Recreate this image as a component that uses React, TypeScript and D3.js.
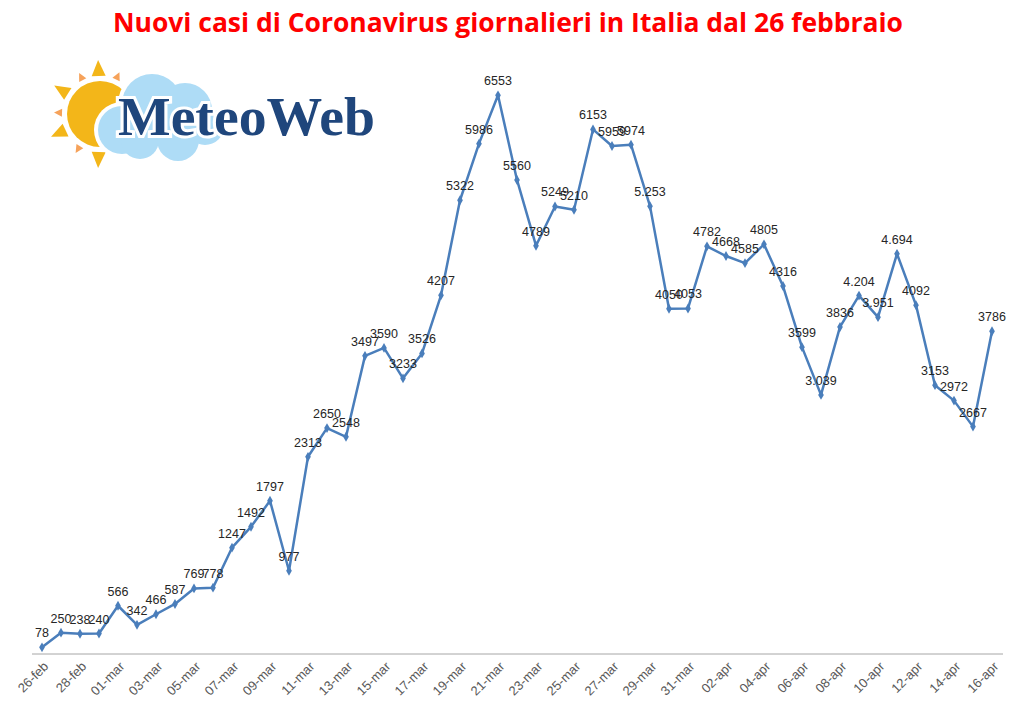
import { useEffect, useRef } from "react";
import * as d3 from "d3";

// daily new cases, 26 feb -> 16 apr 2020
const DAYS = [
  "26-feb", "27-feb", "28-feb", "29-feb",
  "01-mar", "02-mar", "03-mar", "04-mar", "05-mar", "06-mar", "07-mar", "08-mar", "09-mar", "10-mar",
  "11-mar", "12-mar", "13-mar", "14-mar", "15-mar", "16-mar", "17-mar", "18-mar", "19-mar", "20-mar",
  "21-mar", "22-mar", "23-mar", "24-mar", "25-mar", "26-mar", "27-mar", "28-mar", "29-mar", "30-mar", "31-mar",
  "01-apr", "02-apr", "03-apr", "04-apr", "05-apr", "06-apr", "07-apr", "08-apr", "09-apr", "10-apr",
  "11-apr", "12-apr", "13-apr", "14-apr", "15-apr", "16-apr",
];

const CASES = [
  78, 250, 238, 240,
  566, 342, 466, 587, 769, 778, 1247, 1492, 1797, 977,
  2313, 2650, 2548, 3497, 3590, 3233, 3526, 4207, 5322, 5986,
  6553, 5560, 4789, 5249, 5210, 6153, 5959, 5974, 5253, 4050, 4053,
  4782, 4668, 4585, 4805, 4316, 3599, 3039, 3836, 4204, 3951,
  4694, 4092, 3153, 2972, 2667, 3786,
];

// the source mixes "5.253" style labels with plain ones
const DOTTED = ["29-mar", "07-apr", "09-apr", "10-apr", "11-apr"];

const W = 1024, H = 712;
const LINE = "#4a7ebb";

export default function App() {
  const ref = useRef<SVGSVGElement | null>(null);

  useEffect(() => {
    document.body.style.margin = "0";
    if (!ref.current) return;
    const svg = d3.select(ref.current);
    svg.selectAll("*").remove();

    const x = d3.scalePoint<string>().domain(DAYS).range([42, 992]);
    const y = d3.scaleLinear().domain([0, 7000]).range([654, 57.2]);

    // title
    svg.append("text")
      .attr("x", 113).attr("y", 32)
      .attr("font-family", "Open Sans, Liberation Sans, sans-serif")
      .attr("font-weight", 700).attr("font-size", 27)
      .attr("fill", "#ff0000")
      .attr("textLength", 790).attr("lengthAdjust", "spacingAndGlyphs")
      .text("Nuovi casi di Coronavirus giornalieri in Italia dal 26 febbraio");

    // logo: sun + cloud + wordmark
    const logo = svg.append("g");
    const sc = { x: 100, y: 114 };
    const rays = [
      { a: 92, big: true }, { a: 148, big: true }, { a: 205, big: true }, { a: 268, big: true },
      { a: 65, big: false }, { a: 117, big: false }, { a: 178, big: false }, { a: 238, big: false },
    ];
    for (const r of rays) {
      const rad = (r.a * Math.PI) / 180;
      const r0 = 38, r1 = r.big ? 54 : 46, hw = r.big ? 7 : 4;
      const px = (d: number, o: number) => sc.x + Math.cos(rad) * d - Math.sin(rad) * o;
      const py = (d: number, o: number) => sc.y - Math.sin(rad) * d - Math.cos(rad) * o;
      logo.append("path")
        .attr("d", `M${px(r0, -hw)},${py(r0, -hw)}L${px(r1, 0)},${py(r1, 0)}L${px(r0, hw)},${py(r0, hw)}Z`)
        .attr("fill", r.big ? "#f3b619" : "#f6a25a");
    }
    logo.append("circle").attr("cx", sc.x).attr("cy", sc.y).attr("r", 33).attr("fill", "#f3b619");

    const puffs = [
      { cx: 122, cy: 130, r: 24 }, { cx: 152, cy: 104, r: 30 }, { cx: 185, cy: 110, r: 27 },
      { cx: 140, cy: 140, r: 19 }, { cx: 178, cy: 140, r: 21 }, { cx: 205, cy: 126, r: 19 },
    ];
    const cloud = logo.append("g");
    cloud.selectAll("circle.o").data(puffs).join("circle")
      .attr("cx", (d) => d.cx).attr("cy", (d) => d.cy).attr("r", (d) => d.r + 4).attr("fill", "#ffffff");
    cloud.selectAll("circle.i").data(puffs).join("circle")
      .attr("cx", (d) => d.cx).attr("cy", (d) => d.cy).attr("r", (d) => d.r).attr("fill", "#aedcf6");

    for (const halo of [true, false]) {
      logo.append("text")
        .attr("x", 118).attr("y", 135)
        .attr("font-family", "Liberation Serif, DejaVu Serif, serif")
        .attr("font-weight", 700).attr("font-size", 54)
        .attr("fill", halo ? "#ffffff" : "#1f467c")
        .attr("stroke", halo ? "#ffffff" : "none").attr("stroke-width", 6)
        .attr("textLength", 257).attr("lengthAdjust", "spacingAndGlyphs")
        .text("MeteoWeb");
    }

    // x axis
    const axis = svg.append("g").attr("transform", "translate(0,654)");
    axis.append("line").attr("x1", 32).attr("x2", 1003).attr("stroke", "#a6a6a6").attr("stroke-width", 1);
    axis.selectAll("text")
      .data(DAYS.filter((_, i) => i % 2 === 0))
      .join("text")
      .attr("transform", (d) => `translate(${(x(d) ?? 0) + 4},10) rotate(-45)`)
      .attr("text-anchor", "end")
      .attr("dy", "0.35em")
      .attr("font-family", "Liberation Sans, Arial, sans-serif")
      .attr("font-size", 13)
      .attr("fill", "#595959")
      .text((d) => d);

    // series
    const pts = DAYS.map((d, i) => ({ d, v: CASES[i] }));
    const line = d3.line<{ d: string; v: number }>().x((p) => x(p.d) ?? 0).y((p) => y(p.v));
    svg.append("path").datum(pts)
      .attr("d", line)
      .attr("fill", "none").attr("stroke", LINE).attr("stroke-width", 2.5)
      .attr("stroke-linejoin", "round");

    const diamond = d3.symbol().type(d3.symbolDiamond).size(28);
    svg.append("g").selectAll("path").data(pts).join("path")
      .attr("transform", (p) => `translate(${x(p.d)},${y(p.v)})`)
      .attr("d", diamond)
      .attr("fill", LINE);

    const fmtDot = (v: number) => d3.format(",")(v).replace(",", ".");
    svg.append("g").selectAll("text").data(pts).join("text")
      .attr("x", (p) => x(p.d) ?? 0)
      .attr("y", (p) => y(p.v) - 10)
      .attr("text-anchor", "middle")
      .attr("font-family", "Liberation Sans, Arial, sans-serif")
      .attr("font-size", 12.5)
      .attr("fill", "#262626")
      .text((p) => (DOTTED.includes(p.d) ? fmtDot(p.v) : String(p.v)));
  }, []);

  return (
    <svg
      ref={ref}
      width={W}
      height={H}
      viewBox={`0 0 ${W} ${H}`}
      style={{ display: "block", background: "#ffffff" }}
    />
  );
}
